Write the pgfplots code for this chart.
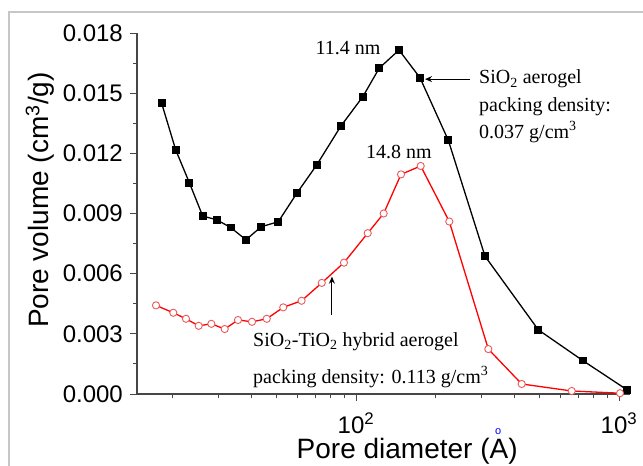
\documentclass[border=0pt]{standalone}
\usepackage{pgfplots}
\pgfplotsset{compat=1.18}
\usetikzlibrary{arrows.meta}
\usepackage{fontspec}
\setmainfont{Liberation Sans}
\newfontfamily\serif{Liberation Serif}
\definecolor{axgray}{RGB}{70,70,70}
\definecolor{ptred}{RGB}{235,90,90}
\begin{document}
\begin{tikzpicture}[x=1pt,y=1pt]
\useasboundingbox (-137,-72) rectangle (506,394);
\draw[black!22, line width=1.2pt] (-128,-72) -- (-128,382) -- (506,382);
\begin{axis}[
  at={(0pt,0pt)}, anchor=south west,
  scale only axis, width=493pt, height=361pt,
  xmode=log, xmin=14.7, xmax=1101,
  ymin=0, ymax=0.018,
  scaled y ticks=false,
  axis line style={axgray, line width=1.1pt},
  axis x line*=bottom, axis y line*=left,
  tick align=outside, tick pos=left,
  major tick length=7pt, minor tick length=4pt,
  every tick/.style={axgray, line width=0.9pt},
  xtick={100,1000},
  xticklabels={10\textsuperscript{2},10\textsuperscript{3}},
  minor xtick={20,30,40,50,60,70,80,90,200,300,400,500,600,700,800,900},
  ytick={0,0.003,0.006,0.009,0.012,0.015,0.018},
  yticklabels={0.000,0.003,0.006,0.009,0.012,0.015,0.018},
  minor ytick={0.0015,0.0045,0.0075,0.0105,0.0135,0.0165},
  tick label style={font=\fontsize{24}{24}\selectfont, text=black},
  yticklabel style={anchor=east, inner sep=0pt, xshift=-7pt},
  xticklabel style={anchor=north, inner sep=0pt, yshift=-12pt},
  label style={font=\fontsize{28}{28}\selectfont},
  ylabel={Pore volume (cm\textsuperscript{3}/g)},
  ylabel style={at={(axis description cs:-0.197,0.537)}, anchor=center},
  xlabel={Pore diameter (\rlap{\hspace{0.2em}\raisebox{0.86em}{\textcolor{blue}{\fontsize{11}{11}\selectfont o}}}A)},
  xlabel style={at={(axis description cs:0.548,-0.178)}, anchor=base, inner sep=0pt},
  clip=false,
]
\addplot[black, line width=1.3pt, mark=square*, mark size=3.3pt, mark options={solid}] coordinates {
(18.25,0.01449) (20.63,0.01217) (23.24,0.01054) (26.13,0.00887) (29.53,0.00869)
(33.38,0.00830) (38.16,0.00769) (43.63,0.00834) (50.65,0.00859) (59.5,0.01000)
(70.9,0.01142) (87.7,0.01337) (106.1,0.01482) (122.6,0.01625) (145.7,0.01715)
(175.1,0.01577) (224.4,0.01265) (309.4,0.00687) (493.4,0.00320) (727.8,0.00167)
(1075,0.00020)
};
\addplot[red, line width=1.3pt, mark=*, mark size=3.6pt, mark options={draw=ptred, fill=white, line width=0.9pt}] coordinates {
(17.36,0.00442) (20.2,0.00405) (22.57,0.00375) (25.23,0.00340) (28.18,0.00350)
(31.68,0.00324) (35.59,0.00369) (40.24,0.00360) (45.77,0.00375) (52.9,0.00432)
(62.1,0.00465) (74.1,0.00554) (90.0,0.00655) (110.8,0.00802) (127.4,0.00900)
(148.3,0.01095) (176.2,0.01137) (226.3,0.00860) (318.5,0.00224) (426.6,0.00050)
(661,0.00015) (1009,0.00004)
};
\node[font=\serif\fontsize{20}{20}\selectfont] at (axis cs:93.2,0.01725) {11.4 nm};
\node[font=\serif\fontsize{20}{20}\selectfont] at (axis cs:145.7,0.01205) {14.8 nm};
\draw[-{Stealth[length=7pt,width=6pt]}, line width=1pt] (axis cs:271.4,0.0157) -- (axis cs:183.0,0.0157);
\node[font=\serif\fontsize{20}{20}\selectfont, anchor=west, inner sep=0pt] at (axis cs:293.6,0.0157) {SiO\textsubscript{2} aerogel};
\node[font=\serif\fontsize{20}{20}\selectfont, anchor=west, inner sep=0pt] at (axis cs:293.6,0.0143) {packing density:};
\node[font=\serif\fontsize{20}{20}\selectfont, anchor=west, inner sep=0pt] at (axis cs:293.6,0.01305) {0.037 g/cm\textsuperscript{3}};
\draw[-{Stealth[length=7pt,width=6pt]}, line width=1pt] (axis cs:81.0,0.00395) -- (axis cs:81.0,0.00585);
\node[font=\serif\fontsize{20}{20}\selectfont, anchor=west, inner sep=0pt] at (axis cs:40.6,0.0026) {SiO\textsubscript{2}-TiO\textsubscript{2} hybrid aerogel};
\node[font=\serif\fontsize{20}{20}\selectfont, anchor=west, inner sep=0pt] at (axis cs:40.6,0.00085) {packing density: 0.113 g/cm\textsuperscript{3}};
\end{axis}
\end{tikzpicture}
\end{document}
